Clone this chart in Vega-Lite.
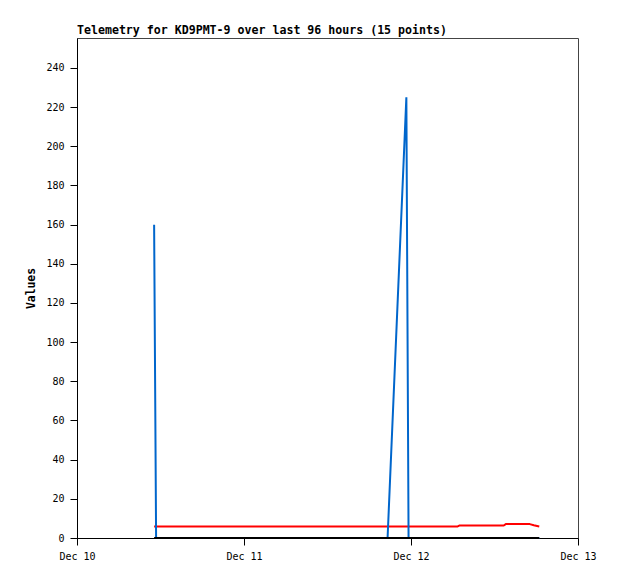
{
  "$schema": "https://vega.github.io/schema/vega-lite/v6.json",
  "width": 501,
  "height": 500,
  "autosize": {"type": "none"},
  "padding": {"left": 77, "top": 38, "right": 40, "bottom": 41},
  "background": "white",
  "config": {
    "view": {"stroke": "#444444", "strokeWidth": 1},
    "font": "DejaVu Sans Mono",
    "axis": {
      "grid": false,
      "domainColor": "#000000",
      "tickColor": "#000000",
      "tickSize": 7,
      "labelFont": "DejaVu Sans Mono",
      "labelFontSize": 10,
      "labelColor": "#000000",
      "titleFont": "DejaVu Sans Mono",
      "titleFontSize": 11.4,
      "titleFontWeight": "bold",
      "titleColor": "#000000"
    }
  },
  "title": {
    "text": "Telemetry for KD9PMT-9 over last 96 hours (15 points)",
    "anchor": "start",
    "frame": "group",
    "font": "DejaVu Sans Mono",
    "fontSize": 11.6,
    "fontWeight": "bold",
    "color": "#000000",
    "baseline": "alphabetic",
    "offset": 6,
    "dy": 14
  },
  "data": {
    "values": [
      {"time": "2024-12-10T11:05:00", "ch1": 160, "ch2": 5.9, "ch3": 0},
      {"time": "2024-12-10T11:22:00", "ch1": 0, "ch2": 5.9, "ch3": 0},
      {"time": "2024-12-11T04:00:00", "ch1": 0, "ch2": 5.9, "ch3": 0},
      {"time": "2024-12-11T20:38:00", "ch1": 0, "ch2": 5.9, "ch3": 0},
      {"time": "2024-12-11T23:20:00", "ch1": 225, "ch2": 5.9, "ch3": 0},
      {"time": "2024-12-11T23:39:00", "ch1": 0, "ch2": 5.9, "ch3": 0},
      {"time": "2024-12-12T02:00:00", "ch1": 0, "ch2": 5.9, "ch3": 0},
      {"time": "2024-12-12T06:43:00", "ch1": 0, "ch2": 5.9, "ch3": 0},
      {"time": "2024-12-12T07:00:00", "ch1": 0, "ch2": 6.4, "ch3": 0},
      {"time": "2024-12-12T10:00:00", "ch1": 0, "ch2": 6.4, "ch3": 0},
      {"time": "2024-12-12T13:20:00", "ch1": 0, "ch2": 6.4, "ch3": 0},
      {"time": "2024-12-12T13:37:00", "ch1": 0, "ch2": 7.1, "ch3": 0},
      {"time": "2024-12-12T17:04:00", "ch1": 0, "ch2": 7.1, "ch3": 0},
      {"time": "2024-12-12T17:39:00", "ch1": 0, "ch2": 6.5, "ch3": 0},
      {"time": "2024-12-12T18:26:00", "ch1": 0, "ch2": 5.9, "ch3": 0}
    ]
  },
  "encoding": {
    "x": {
      "field": "time",
      "type": "temporal",
      "scale": {
        "domain": [
          {"year": 2024, "month": 12, "date": 10},
          {"year": 2024, "month": 12, "date": 13}
        ]
      },
      "axis": {
        "title": null,
        "format": "%b %d",
        "tickCount": {"interval": "day", "step": 1},
        "labelPadding": 6,
        "labelFlush": false,
        "labelOverlap": false
      }
    }
  },
  "layer": [
    {
      "mark": {"type": "line", "color": "#ff0000", "strokeWidth": 2, "strokeJoin": "bevel", "interpolate": "linear"},
      "encoding": {
        "y": {
          "field": "ch2",
          "type": "quantitative",
          "title": "Values",
          "scale": {"domain": [0, 255.3], "nice": false},
          "axis": {
            "values": [0, 20, 40, 60, 80, 100, 120, 140, 160, 180, 200, 220, 240],
            "labelPadding": 6,
            "titleX": -46,
            "titleY": 250,
            "titleAngle": -90,
            "titleAlign": "center",
            "titleBaseline": "middle"
          }
        }
      }
    },
    {
      "mark": {"type": "line", "color": "#0066cc", "strokeWidth": 2, "strokeJoin": "bevel"},
      "encoding": {"y": {"field": "ch1", "type": "quantitative"}}
    },
    {
      "mark": {"type": "line", "color": "#000000", "strokeWidth": 2},
      "encoding": {"y": {"field": "ch3", "type": "quantitative"}}
    }
  ]
}
